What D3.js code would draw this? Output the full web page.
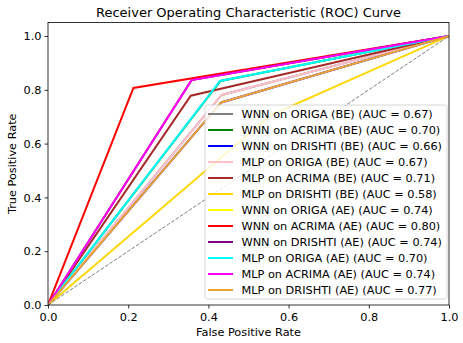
<!DOCTYPE html>
<html>
<head>
<meta charset="utf-8">
<script src="https://cdn.jsdelivr.net/npm/d3@7"></script>
<style>
  html, body { margin: 0; padding: 0; background: #fff; }
  svg { display: block; font-family: "DejaVu Sans", sans-serif; }
</style>
</head>
<body>
<svg id="chart" width="463" height="343"></svg>
<script>
// ---- data ----
const labels = [
  "WNN on ORIGA (BE) (AUC = 0.67)",
  "WNN on ACRIMA (BE) (AUC = 0.70)",
  "WNN on DRISHTI (BE) (AUC = 0.66)",
  "MLP on ORIGA (BE) (AUC = 0.67)",
  "MLP on ACRIMA (BE) (AUC = 0.71)",
  "MLP on DRISHTI (BE) (AUC = 0.58)",
  "WNN on ORIGA (AE) (AUC = 0.74)",
  "WNN on ACRIMA (AE) (AUC = 0.80)",
  "WNN on DRISHTI (AE) (AUC = 0.74)",
  "MLP on ORIGA (AE) (AUC = 0.70)",
  "MLP on ACRIMA (AE) (AUC = 0.74)",
  "MLP on DRISHTI (AE) (AUC = 0.77)"
];
const colors = ["#808080", "#008000", "#0000ff", "#ffc0cb", "#a52a2a", "#ffd700",
                "#ffff00", "#ff0000", "#800080", "#00ffff", "#ff00ff", "#f0a430"];
// false positive rates (knee) for each curve: [0, fpr, 1]
const fprKnee = [0.433, 0.430, 0.432, 0.433, 0.356, 0.556, 0.358, 0.213, 0.358, 0.429, 0.358, 0.432];
// true positive rates (knee) for each curve: [0, tpr, 1]
const tprKnee = [0.781, 0.833, 0.753, 0.781, 0.778, 0.706, 0.836, 0.807, 0.836, 0.833, 0.836, 0.753];
const xTicks = [0.0, 0.2, 0.4, 0.6, 0.8, 1.0];
const yTicks = [0.0, 0.2, 0.4, 0.6, 0.8, 1.0];

// ---- layout ----
(function () {
const svg = d3.select("#chart");
const FS = 11.3;
const pL = 48, pR = 449, pB = 305, pT = 22.5;
const x = d3.scaleLinear().domain([0, 1]).range([pL, pR]);
const y = d3.scaleLinear().domain([0, 1]).range([pB, 36]);

const plot = svg.append("g");
plot.append("defs").append("clipPath").attr("id", "clip")
  .append("rect").attr("x", pL).attr("y", pT).attr("width", pR - pL).attr("height", pB - pT);

const line = d3.line().x(d => x(d[0])).y(d => y(d[1]));
const lg = plot.append("g").attr("clip-path", "url(#clip)");

labels.forEach((lab, i) => {
  const pts = [[0, 0], [fprKnee[i], tprKnee[i]], [1, 1]];
  lg.append("path").attr("d", line(pts))
    .attr("fill", "none").attr("stroke", colors[i]).attr("stroke-width", 2)
    .attr("stroke-linejoin", "miter").attr("stroke-linecap", "square");
});

// diagonal
lg.append("path").attr("d", line([[0, 0], [1, 1]]))
  .attr("fill", "none").attr("stroke", "#808080").attr("stroke-width", 1)
  .attr("stroke-dasharray", "3.7,1.6");

// axes
const xAxis = d3.axisBottom(x).tickValues(xTicks).tickFormat(d3.format(".1f")).tickSize(3.5).tickPadding(4.5);
const yAxis = d3.axisLeft(y).tickValues(yTicks).tickFormat(d3.format(".1f")).tickSize(3.5).tickPadding(3);
const gx = svg.append("g").attr("transform", `translate(0,${pB})`).call(xAxis);
const gy = svg.append("g").attr("transform", `translate(${pL},0)`).call(yAxis);
[gx, gy].forEach(g => {
  g.select(".domain").remove();
  g.selectAll("text").attr("font-size", FS).attr("fill", "#000").attr("font-family", "DejaVu Sans");
  g.selectAll("line").attr("stroke", "#000").attr("stroke-width", 0.8);
});

// frame
svg.append("rect").attr("x", pL).attr("y", pT).attr("width", pR - pL).attr("height", pB - pT)
  .attr("fill", "none").attr("stroke", "#000").attr("stroke-width", 0.8);

// title & labels
svg.append("text").attr("x", (pL + pR) / 2).attr("y", 16.5).attr("text-anchor", "middle")
  .attr("font-size", 13).text("Receiver Operating Characteristic (ROC) Curve");
svg.append("text").attr("x", (pL + pR) / 2).attr("y", 336).attr("text-anchor", "middle")
  .attr("font-size", FS).text("False Positive Rate");
svg.append("text").attr("transform", `translate(16,${(pT + pB) / 2}) rotate(-90)`)
  .attr("text-anchor", "middle").attr("font-size", FS).text("True Positive Rate");

// legend
const leg = svg.append("g");
leg.append("rect").attr("x", 205).attr("y", 105).attr("width", 242).attr("height", 194)
  .attr("rx", 2.5).attr("fill", "#fff").attr("fill-opacity", 0.8)
  .attr("stroke", "#cccccc").attr("stroke-width", 0.8);
labels.forEach((lab, i) => {
  const yy = 114 + i * 16;
  leg.append("line").attr("x1", 208).attr("x2", 233).attr("y1", yy).attr("y2", yy)
    .attr("stroke", colors[i]).attr("stroke-width", 2);
  leg.append("text").attr("x", 241.5).attr("y", yy).attr("dy", "0.35em")
    .attr("font-size", FS).text(lab);
});
})();
</script>
</body>
</html>
